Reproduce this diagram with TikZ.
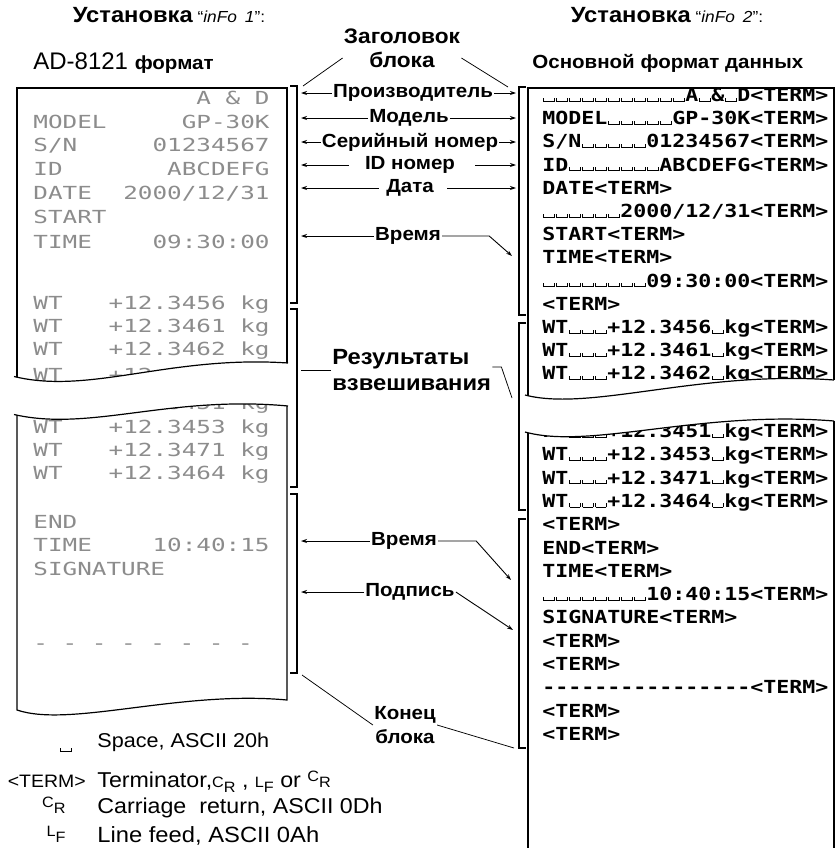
\documentclass[tikz,border=0pt]{standalone}
\usepackage{fontspec}
\setmainfont{Liberation Sans}
\newfontfamily\wide[FakeStretch=1.08]{Liberation Sans}
\newfontfamily\dotfont[FakeStretch=1.35]{DejaVu Sans Mono}
\newfontfamily\termfont[FakeStretch=1.2]{DejaVu Sans Mono}
\usetikzlibrary{arrows.meta}

\newlength\spw
\setlength\spw{13bp}
\newcommand\spbox{\makebox[\spw]{\rule{0.8bp}{4bp}\rule{\dimexpr\spw-3bp\relax}{0.8bp}\rule{0.8bp}{4bp}}}
\newcommand\rep[2]{\ifnum#1>0 #2\expandafter\rep\expandafter{\the\numexpr#1-1\relax}{#2}\fi}
\newcommand\blanks[1]{\rep{#1}{\spbox}}
\newcommand\pairlow[2]{{\fontsize{15bp}{15bp}\selectfont#1\raisebox{-5bp}{#2}}}
\newcommand\pairhigh[2]{{\fontsize{15bp}{15bp}\selectfont\raisebox{6bp}{#1}#2}}

\tikzset{every picture/.style={line width=0.75pt}}
\tikzset{
  paper/.style={line width=1.2bp},
  brk/.style={line width=1.2bp},
  arr/.style={line width=0.9bp, -{Stealth[length=6bp,width=4bp]}},
  hdr/.style={font=\wide\fontsize{16bp}{22bp}\selectfont, inner sep=0pt},
  lbl/.style={font=\wide\bfseries\fontsize{19bp}{22bp}\selectfont, inner sep=1bp},
  bigl/.style={font=\wide\bfseries\fontsize{22bp}{26bp}\selectfont, inner sep=1bp, align=left},
  dotrow/.style={font=\dotfont\fontsize{18bp}{20bp}\selectfont, text=black!45, inner sep=0pt},
  termrow/.style={font=\termfont\bfseries\fontsize{18bp}{20bp}\selectfont, inner sep=0pt, anchor=base west},
  legend/.style={font=\wide\fontsize{21.5bp}{24bp}\selectfont, inner sep=0pt, anchor=base west},
}

\begin{document}
\begin{tikzpicture}[x=1bp, y=-1bp]
    \useasboundingbox (0,0) rectangle (837,848);

    \node[hdr] (set1) at (169,15) {{\bfseries\fontsize{22bp}{22bp}\selectfont Установка} “{\itshape inFo\hspace{8bp}1}”:};
    \node[hdr] (set2) at (667,15) {{\bfseries\fontsize{22bp}{22bp}\selectfont Установка} “{\itshape inFo\hspace{8bp}2}”:};
    \node[anchor=west, inner sep=0pt] (fmt1) at (33,63) {\fontsize{24bp}{26bp}\selectfont AD-8121 {\wide\bfseries\fontsize{19bp}{22bp}\selectfont формат}};
    \node[anchor=west, inner sep=0pt, font=\wide\bfseries\fontsize{19bp}{22bp}\selectfont] (fmt2) at (532,63) {Основной формат данных};
    \node[font=\wide\bfseries\fontsize{21bp}{24bp}\selectfont, align=center, inner sep=1bp] (head) at (402,48) {Заголовок\\блока};

    \foreach \y/\a/\b [count=\i] in {98//A~\&~D, 122/MODEL/GP-30K, 145/{S/N}/01234567, 169/ID/ABCDEFG, 193/DATE/{2000/12/31}, 217/START/, 242/TIME/09:30:00, 303/WT/+12.3456~kg, 326/WT/+12.3461~kg, 349/WT/+12.3462~kg, 375/WT/+12.3458~kg, 403/WT/+12.3451~kg, 427/WT/+12.3453~kg, 450/WT/+12.3471~kg, 473/WT/+12.3464~kg, 522/END/, 545/TIME/10:40:15, 569/SIGNATURE/} {
        \node[dotrow, anchor=base west] (pa\i) at (33,{\y+6.5}) {\a};
        \node[dotrow, anchor=base east] (pb\i) at (270,{\y+6.5}) {\b};
    }
    \node[dotrow, anchor=base west] (pdash) at (33,649.5) {-~-~-~-~-~-~-~-};

    \foreach \txt [count=\i from 0] in {{\blanks{11}A\spbox\&\spbox D<TERM>}, {MODEL\blanks{5}GP-30K<TERM>}, {S/N\blanks{5}01234567<TERM>}, {ID\blanks{7}ABCDEFG<TERM>}, {DATE<TERM>}, {\blanks{6}2000/12/31<TERM>}, {START<TERM>}, {TIME<TERM>}, {\blanks{8}09:30:00<TERM>}, {<TERM>}, {WT\blanks{3}+12.3456\spbox kg<TERM>}, {WT\blanks{3}+12.3461\spbox kg<TERM>}, {WT\blanks{3}+12.3462\spbox kg<TERM>}}
        \node[termrow] (ru\i) at (542,{101.5+23.2*\i}) {\txt};
    \foreach \txt [count=\i from 0] in {{WT\blanks{3}+12.3451\spbox kg<TERM>}, {WT\blanks{3}+12.3453\spbox kg<TERM>}, {WT\blanks{3}+12.3471\spbox kg<TERM>}, {WT\blanks{3}+12.3464\spbox kg<TERM>}, {<TERM>}, {END<TERM>}, {TIME<TERM>}, {\blanks{8}10:40:15<TERM>}, {SIGNATURE<TERM>}, {<TERM>}, {<TERM>}, {\rep{16}{\mbox{-}}<TERM>}, {<TERM>}, {<TERM>}}
        \node[termrow] (rl\i) at (542,{437.5+23.3*\i}) {\txt};

    \fill[white] (12,377) .. controls (90,395) and (170,355) .. (289,363) -- (289,406) .. controls (170,395) and (90,432) .. (12,415) -- cycle;
    \fill[white] (523,395) .. controls (590,412) and (700,370) .. (836,380) -- (836,421) .. controls (700,410) and (590,450) .. (523,432) -- cycle;

    \draw[paper] (14,376.5) .. controls (90,395) and (170,355) .. (288,363);
    \draw[paper] (17,377) -- (17,88) -- (287,88) -- (287,363);
    \draw[paper] (14,414.5) .. controls (90,432) and (170,395) .. (288,406);
    \draw[paper] (17,415) -- (17,710) .. controls (70,728) and (180,690) .. (287,700) -- (287,406);
    \draw[paper] (525,395) .. controls (590,412) and (700,370) .. (834,380);
    \draw[paper] (528,396) -- (528,88) -- (834,88) -- (834,380);
    \draw[paper] (525,432) .. controls (590,450) and (700,410) .. (834,421);
    \draw[paper] (528,433) -- (528,848);
    \draw[paper] (834,421) -- (834,848);

    \draw[brk] (290,86) -- (297,86) -- (297,303) -- (290,303);
    \draw[brk] (290,309) -- (297,309) -- (297,487) -- (290,487);
    \draw[brk] (290,494) -- (297,494) -- (297,673) -- (290,673);
    \draw[brk] (526,87) -- (519,87) -- (519,315) -- (526,315);
    \draw[brk] (526,323) -- (519,323) -- (519,510) -- (526,510);
    \draw[brk] (526,519) -- (519,519) -- (519,748) -- (526,748);

    \node[lbl] (lprod) at (413,93) {Производитель};
    \node[lbl] (lmod) at (409,118) {Модель};
    \node[lbl] (lser) at (410,142) {Серийный номер};
    \node[lbl] (lid) at (410,165) {ID номер};
    \node[lbl] (ldate) at (410,188) {Дата};
    \node[lbl] (ltime) at (408,236) {Время};
    \node[bigl, anchor=west] (lres) at (331,370) {Результаты\\взвешивания};
    \node[lbl] (ltimeb) at (404,541) {Время};
    \node[lbl] (lsig) at (410,592) {Подпись};
    \node[lbl, align=center, font=\wide\bfseries\fontsize{19bp}{24bp}\selectfont] (lend) at (405,725) {Конец\\блока};

    \coordinate (lb) at (301,0);
    \coordinate (rb) at (516,0);
    \coordinate (phl) at (303,86);
    \coordinate (phr) at (508,87);
    \coordinate (ptime) at (512,256);
    \coordinate (pres) at (512,398);
    \coordinate (ptimeb) at (511,580);
    \coordinate (psig) at (513,630);
    \coordinate (pend) at (302,675);
    \coordinate (pendr) at (514,748);

    \draw ([yshift=-10bp]head.west) -- (phl);
    \draw ([yshift=-10bp]head.east) -- (phr);
    \foreach \n in {prod,mod,ser} {
        \draw[arr] (l\n.west) -- (l\n.west -| lb);
        \draw[arr] (l\n.east) -- (l\n.east -| rb);
    }
    \draw[arr] ([xshift=-15bp]lid.west) -- (lid.west -| lb);
    \draw[arr] ([xshift=19bp]lid.east) -- (lid.east -| rb);
    \draw[arr] ([xshift=-6bp]ldate.west) -- (ldate.west -| lb);
    \draw[arr] ([xshift=12bp]ldate.east) -- (ldate.east -| rb);
    \draw[arr] (ltime.west) -- (ltime.west -| lb);
    \draw[arr] (ltime.east) -- ++(47,0) -- (ptime);
    \draw (lres.west) -- (lres.west -| lb);
    \draw ([yshift=3bp]lres.east) -- ++(9,0) -- (pres);
    \draw[arr] (ltimeb.west) -- (ltimeb.west -| lb);
    \draw[arr] (ltimeb.east) -- ++(38,0) -- (ptimeb);
    \draw[arr] (lsig.west) -- (lsig.west -| lb);
    \draw[arr] (lsig.east) -- (psig);
    \draw (pend) -- (lend.west);
    \draw (lend.east) -- (pendr);

    \node[anchor=base east, inner sep=0pt] (ksp) at (73,752) {\spbox};
    \node[legend, font=\wide\fontsize{20bp}{24bp}\selectfont] (tsp) at (97,747) {Space, ASCII 20h};
    \node[anchor=base east, inner sep=0pt, font=\wide\fontsize{18bp}{20bp}\selectfont] (kterm) at (86,787) {<TERM>};
    \node[legend] (tterm) at (97,787) {Terminator,\pairlow{C}{R} , \pairlow{L}{F} or \pairhigh{C}{R}};
    \node[anchor=base east, inner sep=0pt, font=\wide\fontsize{21.5bp}{24bp}\selectfont] (kcr) at (66,813) {\pairhigh{C}{R}};
    \node[legend] (tcr) at (97,813) {Carriage\ \ return, ASCII 0Dh};
    \node[anchor=base east, inner sep=0pt, font=\wide\fontsize{21.5bp}{24bp}\selectfont] (klf) at (66,842) {\pairhigh{L}{F}};
    \node[legend, font=\wide\fontsize{22bp}{24bp}\selectfont] (tlf) at (97,842) {Line feed, ASCII 0Ah};
\end{tikzpicture}
\end{document}
